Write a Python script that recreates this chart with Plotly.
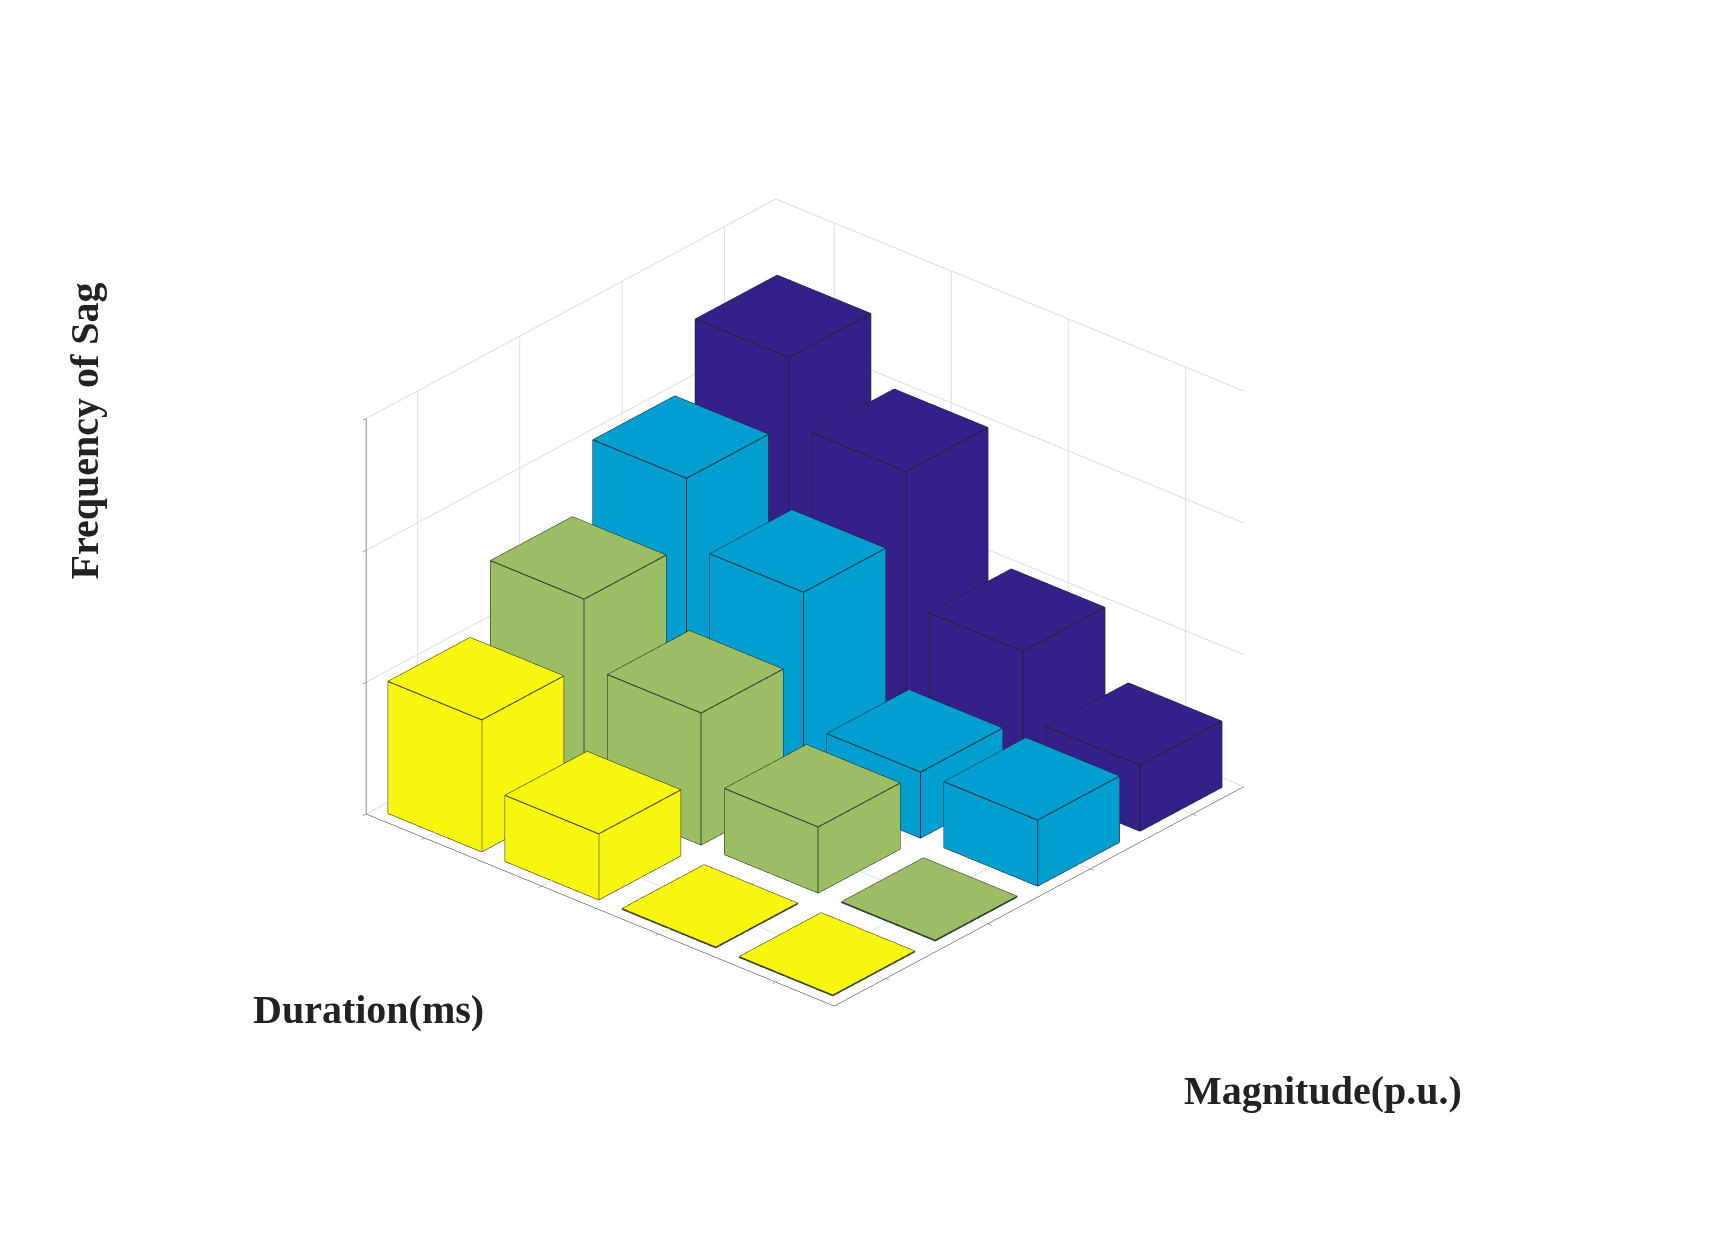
import plotly.graph_objects as go

# bar3 data: rows = duration, columns = magnitude
durations = ["60", "80", "150", "300"]
magnitudes = ["0.1-0.3", "0.3-0.5", "0.5-0.7", "0.7-0.9"]
freq_01_03 = [2, 1, 0, 0]
freq_03_05 = [3, 2, 1, 0]
freq_05_07 = [4, 3, 1, 1]
freq_07_09 = [5, 4, 2, 1]
z_ticks = [0, 2, 4, 6]
columns = [freq_01_03, freq_03_05, freq_05_07, freq_07_09]
colors = ["#F7F70F", "#9BBE64", "#009FD0", "#35208A"]

W = 0.4
n = len(durations)


def box(xc, yc, h):
    h = max(h, 0.01)
    xs = [xc - W, xc + W, xc + W, xc - W] * 2
    ys = [yc - W, yc - W, yc + W, yc + W] * 2
    zs = [0] * 4 + [h] * 4
    faces = [(0, 1, 2), (0, 2, 3), (4, 5, 6), (4, 6, 7),
             (0, 1, 5), (0, 5, 4), (1, 2, 6), (1, 6, 5),
             (2, 3, 7), (2, 7, 6), (3, 0, 4), (3, 4, 7)]
    edges = [(0, 1), (1, 2), (2, 3), (3, 0), (4, 5), (5, 6), (6, 7), (7, 4),
             (0, 4), (1, 5), (2, 6), (3, 7)]
    return xs, ys, zs, faces, edges


fig = go.Figure()
ex, ey, ez = [], [], []
for c, vals in enumerate(columns):
    X, Y, Z, I, J, K = [], [], [], [], [], []
    for r, v in enumerate(vals):
        xs, ys, zs, faces, edges = box(c + 1, n - r, v)  # y reversed like bar3
        off = len(X)
        X += xs; Y += ys; Z += zs
        for a, b, d in faces:
            I.append(a + off); J.append(b + off); K.append(d + off)
        for a, b in edges:
            ex += [xs[a], xs[b], None]
            ey += [ys[a], ys[b], None]
            ez += [zs[a], zs[b], None]
    fig.add_trace(go.Mesh3d(
        x=X, y=Y, z=Z, i=I, j=J, k=K, color=colors[c], flatshading=True,
        lighting=dict(ambient=1, diffuse=0, specular=0, fresnel=0),
        hoverinfo="skip", showscale=False))

fig.add_trace(go.Scatter3d(x=ex, y=ey, z=ez, mode="lines",
                           line=dict(color="#222222", width=2),
                           hoverinfo="skip", showlegend=False))

tfont = dict(family="Liberation Serif", size=40, color="#222222")

# tick labels as 3D text
fig.add_trace(go.Scatter3d(
    x=[0.05] * n, y=[n - r for r in range(n)], z=[0] * n, mode="text",
    text=["<b>%s</b>" % d for d in durations], textposition="bottom left",
    textfont=tfont, hoverinfo="skip", showlegend=False))
fig.add_trace(go.Scatter3d(
    x=[c + 1 for c in range(4)], y=[0.1] * 4, z=[0] * 4, mode="text",
    text=["<b>%s</b>" % m for m in magnitudes], textposition="bottom right",
    textfont=tfont, hoverinfo="skip", showlegend=False))
fig.add_trace(go.Scatter3d(
    x=[0.5] * 4, y=[4.75] * 4, z=z_ticks, mode="text",
    text=["<b>%d</b>" % t for t in z_ticks], textposition="middle left",
    textfont=tfont, hoverinfo="skip", showlegend=False))

axis_common = dict(showbackground=False, gridcolor="#dcdcdc", showline=True,
                   linecolor="#222222", zeroline=False, ticks="outside",
                   showticklabels=False, title=dict(text=""), showspikes=False)

fig.update_layout(
    paper_bgcolor="white", width=1733, height=1244,
    margin=dict(l=0, r=0, t=0, b=0), showlegend=False,
    scene=dict(
        domain=dict(x=[0.0, 0.92], y=[0.0, 1.0]),
        xaxis=dict(axis_common, range=[0.5, 4.5], tickvals=[1, 2, 3, 4]),
        yaxis=dict(axis_common, range=[0.5, 4.5], tickvals=[1, 2, 3, 4]),
        zaxis=dict(axis_common, range=[0, 6], tickvals=z_ticks),
        aspectmode="manual", aspectratio=dict(x=1, y=1, z=0.72),
        camera=dict(eye=dict(x=-1.12, y=-0.98, z=0.74),
                    center=dict(x=0, y=0, z=-0.05),
                    projection=dict(type="orthographic")),
    ),
    annotations=[
        dict(text="<b>Frequency of Sag</b>", x=0.03, y=0.66, xref="paper", yref="paper",
             textangle=-90, showarrow=False, font=tfont),
        dict(text="<b>Duration(ms)</b>", x=0.14, y=0.175, xref="paper", yref="paper",
             showarrow=False, font=tfont),
        dict(text="<b>Magnitude(p.u.)</b>", x=0.84, y=0.11, xref="paper", yref="paper",
             showarrow=False, font=tfont),
    ],
)

fig.write_html("out.html")
